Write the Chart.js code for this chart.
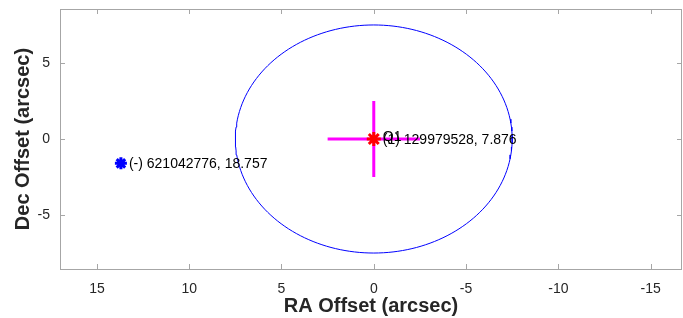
<!DOCTYPE html>
<html>
<head>
<meta charset="UTF-8">
<title>Offset plot</title>
<script src="https://cdn.jsdelivr.net/npm/chart.js"></script>
<style>
  html, body { margin: 0; padding: 0; background: #fff; }
  #wrap { width: 683px; height: 318px; }
</style>
</head>
<body>
<div id="wrap"><canvas id="c" width="683" height="318"></canvas></div>
<script>
// data
const xRange = [-16.7, 17];
const yRange = [-8.55, 8.55];
const xTicks = [15, 10, 5, 0, -5, -10, -15];
const yTicks = [-5, 0, 5];

const circleRadius = 7.5;        // search circle (arcsec)
const crossHalf = 2.5;           // magenta cross half-length

const blueRA = [13.7];
const blueDec = [-1.6];
const blueLabels = ['(-) 621042776, 18.757'];

const redRA = [0];
const redDec = [0];
const redLabels = ['(1) 129979528, 7.876'];
const extraLabel = 'Q1';

// circle outline (join at the top)
const circlePts = [];
for (let i = 90; i <= 450; i += 2) {
  const t = i * Math.PI / 180;
  circlePts.push({ x: circleRadius * Math.cos(t), y: circleRadius * Math.sin(t) });
}

const axisGrey = '#a6a6a6';
const textCol = '#262626';

// inward ticks on all four sides
const boxTicks = {
  id: 'boxTicks',
  afterDraw(chart) {
    const ctx = chart.ctx, a = chart.chartArea;
    const xs = chart.scales.x, ys = chart.scales.y;
    ctx.save();
    ctx.strokeStyle = axisGrey;
    ctx.lineWidth = 1;
    ctx.beginPath();
    xTicks.forEach(v => {
      const px = Math.round(xs.getPixelForValue(v)) + 0.5;
      ctx.moveTo(px, a.bottom); ctx.lineTo(px, a.bottom - 5);
      ctx.moveTo(px, a.top); ctx.lineTo(px, a.top + 5);
    });
    yTicks.forEach(v => {
      const py = Math.round(ys.getPixelForValue(v)) + 0.5;
      ctx.moveTo(a.left, py); ctx.lineTo(a.left + 5, py);
      ctx.moveTo(a.right, py); ctx.lineTo(a.right - 5, py);
    });
    ctx.stroke();
    ctx.strokeRect(a.left + 0.5, a.top + 0.5, a.right - a.left - 1, a.bottom - a.top);
    ctx.restore();
  }
};

// text labels beside the markers
const pointLabels = {
  id: 'pointLabels',
  afterDatasetsDraw(chart) {
    const ctx = chart.ctx;
    const xs = chart.scales.x, ys = chart.scales.y;
    ctx.save();
    ctx.font = '14px "Liberation Sans", Arial, sans-serif';
    ctx.fillStyle = '#000';
    ctx.textBaseline = 'middle';
    ctx.textAlign = 'left';
    blueRA.forEach((v, i) => {
      ctx.fillText(blueLabels[i], xs.getPixelForValue(v) + 8, ys.getPixelForValue(blueDec[i]) + 1);
    });
    redRA.forEach((v, i) => {
      const px = xs.getPixelForValue(v), py = ys.getPixelForValue(redDec[i]);
      ctx.fillText(extraLabel, px + 9, py - 2);
      ctx.fillText(redLabels[i], px + 9, py + 1);
    });
    ctx.restore();
  }
};

const noPad = s => { s.paddingLeft = 0; s.paddingRight = 0; s.paddingTop = 0; s.paddingBottom = 0; };

new Chart(document.getElementById('c'), {
  type: 'scatter',
  data: {
    datasets: [
      {
        data: redRA.map((v, i) => ({ x: v, y: redDec[i] })), order: 0,
        pointStyle: 'star', pointRadius: 7, borderColor: '#ff0000',
        backgroundColor: '#ff0000', borderWidth: 3, showLine: false
      },
      {
        data: blueRA.map((v, i) => ({ x: v, y: blueDec[i] })), order: 1,
        pointStyle: 'star', pointRadius: 6, borderColor: '#0000ff',
        backgroundColor: '#0000ff', borderWidth: 3, showLine: false
      },
      {
        data: [{ x: -crossHalf, y: 0 }, { x: crossHalf, y: 0 }], showLine: true, order: 2,
        borderColor: '#ff00ff', borderWidth: 3, pointRadius: 0
      },
      {
        data: [{ x: 0, y: -crossHalf }, { x: 0, y: crossHalf }], showLine: true, order: 2,
        borderColor: '#ff00ff', borderWidth: 3, pointRadius: 0
      },
      {
        data: circlePts, showLine: true, borderColor: '#0000ff', borderWidth: 1, order: 3,
        pointRadius: 0, fill: false, tension: 0
      }
    ]
  },
  options: {
    responsive: false,
    animation: false,
    layout: { autoPadding: false, padding: { top: 9, right: 1, left: 0, bottom: 0 } },
    plugins: { legend: { display: false }, tooltip: { enabled: false } },
    scales: {
      x: {
        type: 'linear', reverse: true, min: xRange[0], max: xRange[1],
        afterBuildTicks: s => { s.ticks = xTicks.map(v => ({ value: v })); },
        afterFit: s => { s.height = 49; noPad(s); },
        grid: { display: false, drawTicks: false },
        border: { display: false },
        ticks: { color: textCol, font: { size: 14, family: '"Liberation Sans", Arial' }, padding: 12, maxRotation: 0 },
        title: {
          display: true, text: 'RA Offset (arcsec)', color: textCol,
          font: { size: 20, weight: 'bold', family: '"Liberation Sans", Arial' }, padding: { top: 0, bottom: 0 }
        }
      },
      y: {
        type: 'linear', min: yRange[0], max: yRange[1],
        afterBuildTicks: s => { s.ticks = yTicks.map(v => ({ value: v })); },
        afterFit: s => { s.width = 60; noPad(s); },
        grid: { display: false, drawTicks: false },
        border: { display: false },
        ticks: { color: textCol, font: { size: 14, family: '"Liberation Sans", Arial' }, padding: 10 },
        title: {
          display: true, text: 'Dec Offset (arcsec)', color: textCol,
          font: { size: 20, weight: 'bold', family: '"Liberation Sans", Arial' }, padding: { top: 11, bottom: 0 }
        }
      }
    }
  },
  plugins: [boxTicks, pointLabels]
});
</script>
</body>
</html>
